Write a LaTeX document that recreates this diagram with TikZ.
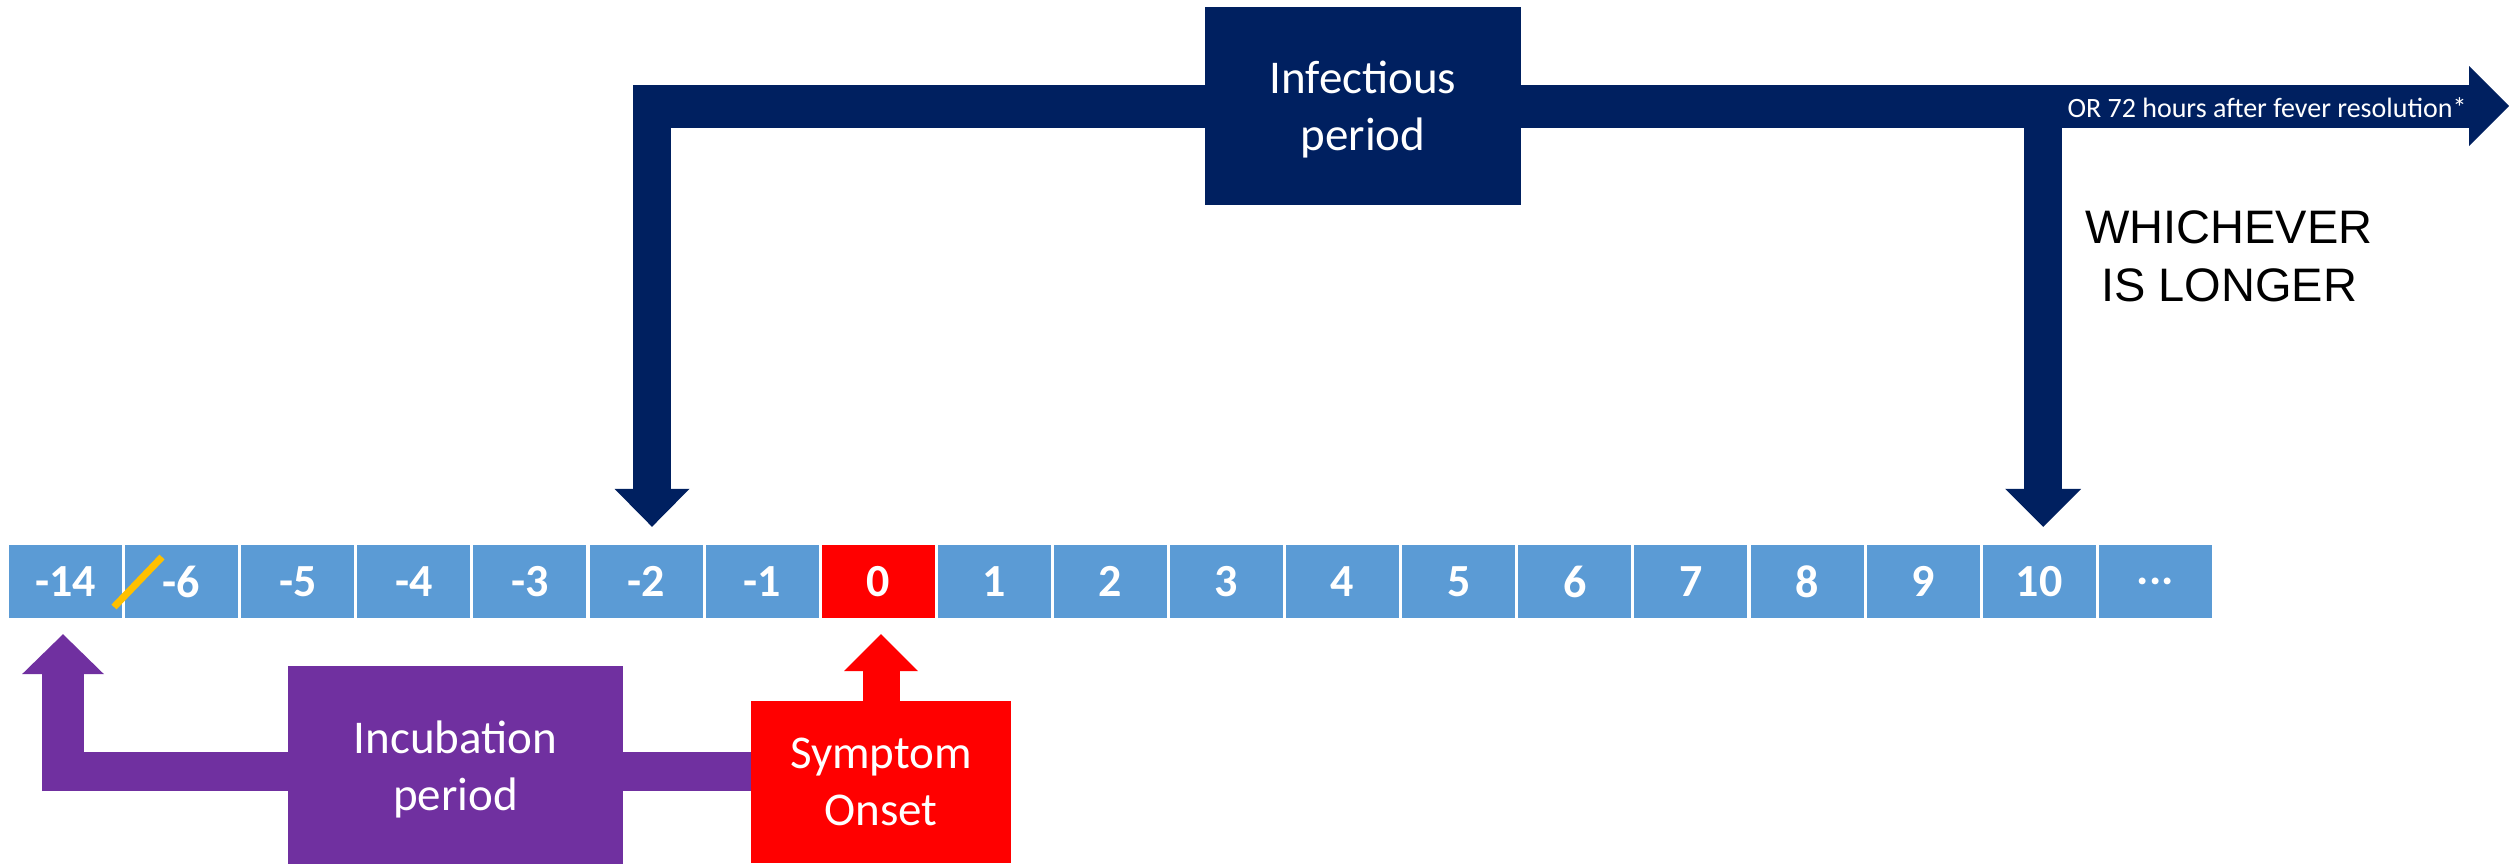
\documentclass[tikz,border=0pt]{standalone}
\usepackage{fontspec}
\setmainfont{Carlito}
\newfontfamily\arialfont{Liberation Sans}
\usetikzlibrary{arrows.meta}
\definecolor{daybox}{HTML}{5B9BD5}
\definecolor{navy}{HTML}{002060}
\definecolor{onset}{HTML}{FF0000}
\definecolor{incub}{HTML}{7030A0}
\definecolor{slashcol}{HTML}{FFC000}

\begin{document}
\begin{tikzpicture}[x=1pt,y=-1pt,
  day/.style={fill=daybox, minimum width=113pt, minimum height=73pt, inner sep=0pt,
    text=white, font=\fontsize{46}{55}\selectfont\bfseries},
  block/.style={inner sep=0pt, text=white, align=center,
    font=\fontsize{47}{57}\selectfont},
]
\fill[white] (0,0) rectangle (2509,863);
\useasboundingbox (0,0) rectangle (2509,863);

% ---- day timeline ----
\foreach \lab [count=\i from 0] in {-14,-6,-5,-4,-3,-2,-1}
  \node[day] (d\i) at ({65.5+116.1*\i},581.5) {\lab};
\node[day, fill=onset] (d7) at ({65.5+116.1*7},581.5) {0};
\foreach \lab [count=\i from 8] in {1,...,10}
  \node[day] (d\i) at ({65.5+116.1*\i},581.5) {\lab};
\node[day] (d18) at ({65.5+116.1*18},581.5) {...};

% break mark between -14 and -6
\draw[slashcol, line width=7pt] (114,607) -- (162,557);

% ---- infectious period ----
\node[block, fill=navy, minimum width=316pt, minimum height=198pt] (inf)
  at (1363,106) {};
\node[block] (inftext) at (1363,110) {Infectious\\period};

\coordinate (lcorner) at (633,106);
\coordinate (ltip) at ([xshift=6pt,yshift=18pt]d5.north);
\draw[navy, line width=43pt] (inf.west) -- (lcorner);
\draw[navy, line width=38pt, -{Triangle[width=75pt,length=38pt,line width=0pt]}]
  (ltip |- lcorner) -- (ltip);

\coordinate (rend) at (2509,106);
\draw[navy, line width=43pt, -{Triangle[width=80pt,length=40pt,line width=0pt]}]
  (inf.east) -- (rend);
\coordinate (rtip) at ([xshift=4pt,yshift=18pt]d17.north);
\draw[navy, line width=38pt, -{Triangle[width=76pt,length=38pt,line width=0pt]}]
  (rtip |- inf.east) -- (rtip);

\node[text=white, inner sep=0pt, anchor=base, font=\fontsize{28}{33}\selectfont]
  (orlabel) at (2267,117) {OR 72 hours after fever resolution*};

\node[inner sep=0pt, align=center, font=\arialfont\fontsize{47}{58}\selectfont]
  (longer) at (2229,256) {WHICHEVER\\IS LONGER};

% ---- symptom onset ----
\node[block, fill=onset, minimum width=260pt, minimum height=162pt] (sym)
  at (881,782) {Symptom\\Onset};
\coordinate (stip) at ([yshift=-16pt]d7.south);
\draw[onset, line width=37pt, -{Triangle[width=74pt,length=37pt,line width=0pt]}]
  (sym.north) -- (sym.north |- stip);

% ---- incubation period ----
\coordinate (ptip) at ([xshift=-2.5pt,yshift=-16pt]d0.south);
\coordinate (pbar) at (63,771.5);
\coordinate (pcorner) at (63,791);
\draw[incub, line width=39pt] (sym.west |- pbar) -- (pbar);
\draw[incub, line width=42pt, -{Triangle[width=82pt,length=40pt,line width=0pt]}]
  (pcorner) -- (pcorner |- ptip);
\node[block, fill=incub, minimum width=335pt, minimum height=207pt] (inc)
  at (455.5,769.5) {Incubation\\period};
\end{tikzpicture}
\end{document}
